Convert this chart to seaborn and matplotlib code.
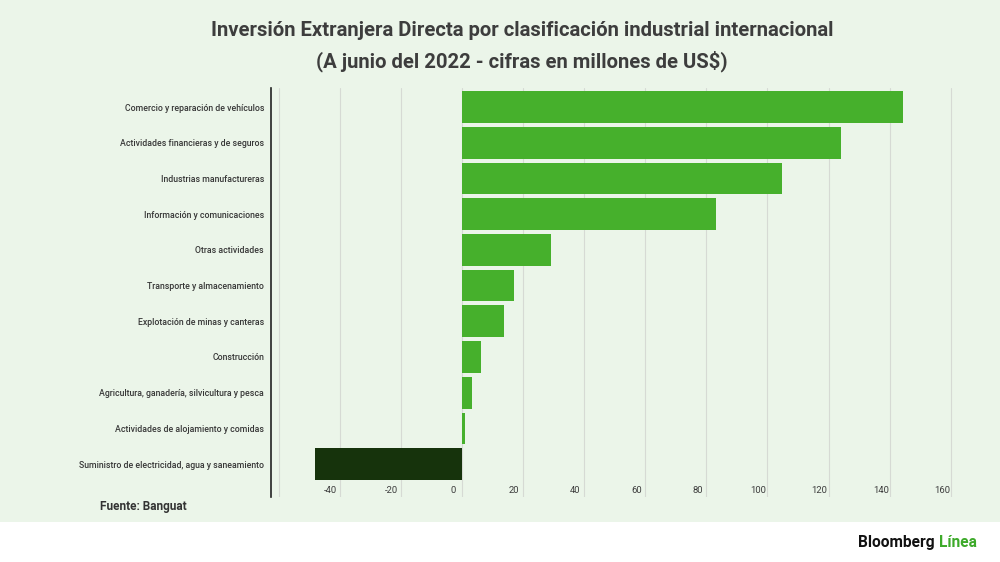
import matplotlib.pyplot as plt
import matplotlib.patches as mpatches
from matplotlib.transforms import ScaledTranslation
import pandas as pd
import seaborn as sns

categories = [
    "Comercio y reparación de vehículos",
    "Actividades financieras y de seguros",
    "Industrias manufactureras",
    "Información y comunicaciones",
    "Otras actividades",
    "Transporte y almacenamiento",
    "Explotación de minas y canteras",
    "Construcción",
    "Agricultura, ganadería, silvicultura y pesca",
    "Actividades de alojamiento y comidas",
    "Suministro de electricidad, agua y saneamiento",
]
values = [144.5, 124.1, 104.9, 83.2, 29.1, 17.0, 13.8, 6.3, 3.4, 1.0, -48.0]
x_ticks = [-60, -40, -20, 0, 20, 40, 60, 80, 100, 120, 140, 160]

BG = "#ebf5e9"
GREEN = "#46b02c"
DARK = "#16330c"
TEXT = "#3d3d3d"

df = pd.DataFrame({"sector": categories, "valor": values})
df["signo"] = ["pos" if v >= 0 else "neg" for v in values]

sns.set_theme(style="white")
plt.rcParams["font.family"] = ["Roboto", "DejaVu Sans"]

fig = plt.figure(figsize=(10, 5.62), dpi=100, facecolor="white")
fig.patches.append(mpatches.Rectangle((0, 0.0712), 1, 1 - 0.0712,
                                      transform=fig.transFigure,
                                      facecolor=BG, edgecolor="none", zorder=-10))
ax = fig.add_axes([0.271, 0.1157, 0.692, 0.7277])
ax.set_facecolor("none")

sns.barplot(data=df, x="valor", y="sector", hue="signo",
            palette={"pos": GREEN, "neg": DARK}, dodge=False, legend=False,
            width=0.885, saturation=1, linewidth=0, ax=ax, zorder=3)

ax.set_xlim(-62.5, 164)
ax.set_ylim(10.92, -0.532)
ax.set_xticks(x_ticks)
ax.set_xticklabels(["" if t == -60 else str(t) for t in x_ticks])
ax.grid(axis="x", color="#d6dad4", linewidth=0.8, zorder=0)
ax.set_xlabel("")
ax.set_ylabel("")

for side in ["top", "right", "bottom"]:
    ax.spines[side].set_visible(False)
ax.spines["left"].set_color("#222222")
ax.spines["left"].set_linewidth(1.2)

ax.tick_params(axis="y", length=0, pad=5, labelsize=6.3, labelcolor="#383838")
ax.tick_params(axis="x", length=0, pad=-8, labelsize=6.8, labelcolor=TEXT)
for lab in ax.get_yticklabels():
    lab.set_fontweight("medium")
for lab in ax.get_xticklabels():
    lab.set_transform(lab.get_transform()
                      + ScaledTranslation(-0.09, 0, fig.dpi_scale_trans))

fig.text(0.522, 0.945,
         "Inversión Extranjera Directa por clasificación industrial internacional",
         ha="center", va="center", fontsize=14.6, fontweight="bold", color=TEXT)
fig.text(0.522, 0.891, "(A junio del 2022 - cifras en millones de US$)",
         ha="center", va="center", fontsize=14.6, fontweight="bold", color=TEXT)

fig.text(0.100, 0.099, "Fuente: Banguat", ha="left", va="center",
         fontsize=8.5, fontweight="bold", color="#333333")

logo = fig.text(0.858, 0.035, "Bloomberg ", ha="left", va="center",
                fontsize=11.2, fontweight="bold", color="#111111")
fig.canvas.draw()
bb = logo.get_window_extent()
fig.text(bb.x1 / fig.bbox.width, 0.035, "Línea", ha="left", va="center",
         fontsize=11.2, fontweight="bold", color="#3daa2a")

fig.savefig("out.png", dpi=100, facecolor=fig.get_facecolor())
